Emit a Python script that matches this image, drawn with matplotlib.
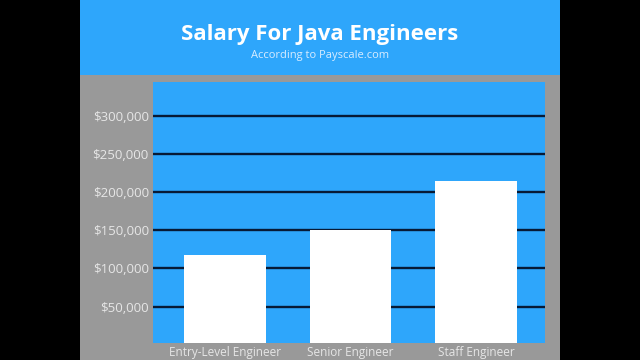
import matplotlib.pyplot as plt
from matplotlib.patches import Rectangle
from matplotlib.ticker import FuncFormatter

# data
roles = ["Entry-Level Engineer", "Senior Engineer", "Staff Engineer"]
salaries = [118000, 150000, 214500]
ticks = [50000, 100000, 150000, 200000, 250000, 300000]

blue = "#2ea6fb"
gray = "#999999"
light = "#e6e6e6"
ymin, ymax = 2500, 344000

fig = plt.figure(figsize=(6.4, 3.6), dpi=100)
fig.patch.set_facecolor("black")

# gray panel and blue header
fig.patches.append(Rectangle((0.125, 0), 0.75, 0.7917, transform=fig.transFigure,
                             facecolor=gray, edgecolor="none", zorder=-10))
fig.patches.append(Rectangle((0.125, 0.7917), 0.75, 0.2083, transform=fig.transFigure,
                             facecolor=blue, edgecolor="none", zorder=-10))

fig.text(0.5, 0.905, "Salary For Java Engineers", ha="center", va="center",
         color="white", fontsize=16, fontweight="bold", family="Open Sans")
fig.text(0.5, 0.845, "According to Payscale.com", ha="center", va="center",
         color="#d8ecff", fontsize=8, family="Open Sans")

ax = fig.add_axes([0.2391, 0.0472, 0.6125, 0.725])
ax.set_facecolor(blue)
ax.set_xlim(-0.574, 2.55)
ax.set_ylim(ymin, ymax)

ax.set_yticks(ticks)
ax.yaxis.set_major_formatter(FuncFormatter(lambda v, p: "${:,.0f}".format(v)))
ax.grid(axis="y", color="#071a35", linewidth=1.7)
ax.set_axisbelow(True)

ax.bar(range(len(roles)), salaries, width=0.65, color="white", zorder=3)

ax.set_xticks(range(len(roles)))
ax.set_xticklabels(roles)
ax.tick_params(length=0, colors=light, labelsize=8.5, pad=2)
ax.tick_params(axis="y", labelsize=9.5, pad=3)
for lab in ax.get_xticklabels() + ax.get_yticklabels():
    lab.set_family("Open Sans")
for s in ax.spines.values():
    s.set_visible(False)

fig.savefig("out.png", dpi=100, facecolor=fig.get_facecolor())
